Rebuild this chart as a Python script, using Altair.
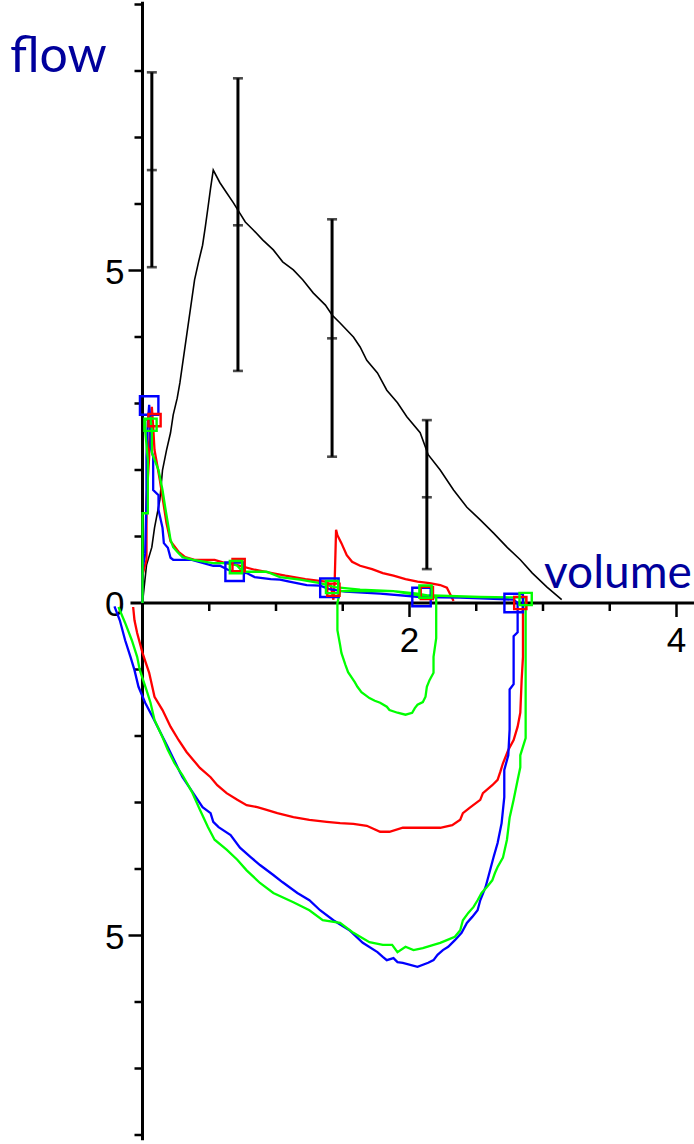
import altair as alt
import pandas as pd

# Scale extents (volume in L, flow in L/s)
X_DOMAIN = [-1.0674, 4.1311]
Y_DOMAIN = [-8.1353, 9.0677]

# Mean expiratory flow-volume curve
mean_curve = [(0.00, 0.00), (0.03, 0.57), (0.07, 0.84), (0.09, 1.13), (0.13, 1.55), (0.15, 2.00),
              (0.18, 2.30), (0.21, 2.56), (0.23, 2.83), (0.26, 3.08), (0.28, 3.31), (0.39, 4.86),
              (0.42, 5.13), (0.45, 5.38), (0.47, 5.65), (0.49, 5.94), (0.51, 6.24), (0.53, 6.51),
              (0.58, 6.32), (0.63, 6.17), (0.68, 6.02), (0.73, 5.86), (0.77, 5.73), (0.83, 5.61),
              (0.90, 5.46), (0.98, 5.31), (1.05, 5.13), (1.13, 5.01), (1.20, 4.86), (1.28, 4.66),
              (1.37, 4.48), (1.42, 4.33), (1.48, 4.21), (1.58, 4.00), (1.63, 3.85), (1.68, 3.65),
              (1.76, 3.46), (1.83, 3.20), (1.91, 3.01), (1.98, 2.80), (2.08, 2.56), (2.14, 2.23),
              (2.23, 2.00), (2.33, 1.70), (2.43, 1.44), (2.53, 1.25), (2.63, 1.05), (2.73, 0.84),
              (2.83, 0.65), (2.92, 0.45), (3.03, 0.24), (3.14, 0.05)]

# Reference error bars: volume, mean, lower, upper
eb_volume = [0.07, 0.715, 1.42, 2.13]
eb_mean = [6.51, 5.68, 3.98, 1.59]
eb_low = [5.05, 3.49, 2.20, 0.51]
eb_high = [7.98, 7.89, 5.77, 2.75]

# Blue loop: expiration then inspiration
blue_loop = [(0.00, 0.00), (0.00, 0.50), (0.02, 0.75), (0.03, 1.55), (0.03, 2.20), (0.04, 2.71),
             (0.05, 2.98), (0.06, 2.71), (0.06, 2.35), (0.08, 2.20), (0.08, 1.70), (0.12, 1.62),
             (0.12, 1.40), (0.15, 1.13), (0.16, 0.90), (0.19, 0.83), (0.21, 0.68), (0.23, 0.65),
             (0.37, 0.65), (0.53, 0.56), (0.58, 0.56), (0.64, 0.50), (0.69, 0.47), (0.78, 0.45),
             (0.84, 0.39), (0.96, 0.36), (1.03, 0.35), (1.10, 0.32), (1.23, 0.27), (1.33, 0.26),
             (1.40, 0.21), (1.52, 0.17), (1.78, 0.14), (2.08, 0.09), (2.38, 0.08), (2.68, 0.06),
             (2.78, 0.05), (2.81, 0.00),
             (2.81, -0.44), (2.78, -0.50), (2.78, -1.22), (2.75, -1.30), (2.75, -1.90), (2.74, -2.29),
             (2.71, -2.51), (2.71, -2.92), (2.69, -3.31), (2.66, -3.61), (2.63, -3.82), (2.61, -3.97),
             (2.59, -4.12), (2.57, -4.27), (2.53, -4.47), (2.51, -4.62), (2.47, -4.72), (2.43, -4.81),
             (2.39, -4.96), (2.34, -5.07), (2.29, -5.17), (2.25, -5.22), (2.21, -5.29), (2.18, -5.37),
             (2.14, -5.41), (2.06, -5.47), (1.95, -5.41), (1.91, -5.40), (1.88, -5.34), (1.83, -5.37),
             (1.80, -5.32), (1.76, -5.25), (1.65, -5.11), (1.55, -4.92), (1.43, -4.77), (1.33, -4.62),
             (1.25, -4.47), (1.16, -4.36), (1.05, -4.20), (0.98, -4.09), (0.88, -3.94), (0.81, -3.82),
             (0.73, -3.68), (0.66, -3.49), (0.57, -3.37), (0.53, -3.29), (0.51, -3.16), (0.45, -3.07),
             (0.39, -2.89), (0.30, -2.62), (0.28, -2.54), (0.19, -2.17), (0.08, -1.73), (0.02, -1.50),
             (-0.03, -1.26), (-0.06, -1.01), (-0.09, -0.81), (-0.13, -0.56), (-0.17, -0.26), (-0.21, -0.05)]

# Green loop: expiration, short inspiration, resumed expiration, full inspiration
green_loop = [(0.00, 0.00), (0.00, 1.35), (0.04, 1.35), (0.04, 2.15), (0.02, 2.60), (0.02, 2.75),
              (0.06, 2.78), (0.07, 2.60), (0.07, 2.26), (0.12, 2.00), (0.15, 1.70), (0.17, 1.44),
              (0.19, 1.20), (0.21, 0.95), (0.23, 0.84), (0.26, 0.77), (0.30, 0.69), (0.38, 0.65),
              (0.53, 0.60), (0.66, 0.60), (0.71, 0.56), (0.75, 0.47), (0.93, 0.47), (1.03, 0.39),
              (1.18, 0.35), (1.33, 0.30), (1.44, 0.24), (1.63, 0.20), (1.88, 0.18), (2.06, 0.14),
              (2.20, 0.09),
              (2.20, 0.00), (2.20, -0.53), (2.18, -0.81), (2.18, -1.05), (2.15, -1.16), (2.13, -1.26),
              (2.12, -1.41), (2.10, -1.49), (2.06, -1.53), (2.04, -1.58), (2.02, -1.65), (1.97, -1.68),
              (1.91, -1.65), (1.85, -1.61), (1.83, -1.56), (1.78, -1.50), (1.74, -1.47), (1.70, -1.43),
              (1.64, -1.34), (1.61, -1.26), (1.59, -1.19), (1.57, -1.13), (1.54, -1.04), (1.52, -0.93),
              (1.49, -0.75), (1.48, -0.63), (1.46, -0.41), (1.46, -0.21), (1.46, 0.00),
              (1.48, 0.18), (1.88, 0.18), (2.06, 0.12), (2.53, 0.09), (2.87, 0.08),
              (2.87, 0.00), (2.87, -2.03), (2.83, -2.29), (2.83, -2.47), (2.81, -2.66), (2.78, -2.96),
              (2.75, -3.23), (2.73, -3.56), (2.70, -3.83), (2.66, -3.97), (2.64, -4.06), (2.62, -4.17),
              (2.58, -4.27), (2.54, -4.36), (2.51, -4.47), (2.48, -4.57), (2.44, -4.66), (2.40, -4.77),
              (2.38, -4.92), (2.34, -5.02), (2.28, -5.07), (2.23, -5.11), (2.18, -5.14), (2.10, -5.19),
              (2.03, -5.22), (1.97, -5.17), (1.91, -5.25), (1.87, -5.14), (1.80, -5.14), (1.70, -5.10),
              (1.58, -4.96), (1.48, -4.81), (1.35, -4.77), (1.25, -4.62), (1.13, -4.50), (0.98, -4.36),
              (0.88, -4.21), (0.78, -4.02), (0.71, -3.86), (0.63, -3.71), (0.54, -3.56), (0.49, -3.37),
              (0.43, -3.11), (0.37, -2.84), (0.30, -2.59), (0.24, -2.41), (0.19, -2.21), (0.15, -2.02),
              (0.09, -1.76), (0.06, -1.50), (0.03, -1.31), (-0.02, -1.01), (-0.04, -0.81), (-0.08, -0.56),
              (-0.13, -0.30), (-0.18, -0.06)]

# Red expiration (with a late burst) and red inspiration
red_expiration = [(0.00, 0.00), (0.00, 0.42), (0.03, 0.65), (0.03, 1.55), (0.05, 2.20), (0.05, 2.41),
                  (0.07, 2.95), (0.08, 2.65), (0.09, 2.30), (0.13, 1.85), (0.18, 1.20), (0.21, 0.93),
                  (0.27, 0.77), (0.32, 0.69), (0.39, 0.65), (0.54, 0.65), (0.62, 0.60), (0.71, 0.57),
                  (0.84, 0.50), (0.97, 0.45), (1.07, 0.41), (1.22, 0.36), (1.37, 0.32), (1.41, 0.27),
                  (1.43, 0.05), (1.44, 0.35), (1.45, 1.10), (1.46, 1.02), (1.49, 0.90), (1.53, 0.72),
                  (1.57, 0.62), (1.63, 0.56), (1.72, 0.51), (1.80, 0.45), (1.88, 0.41), (1.97, 0.36),
                  (2.06, 0.32), (2.15, 0.30), (2.23, 0.27), (2.28, 0.23), (2.30, 0.15), (2.33, 0.03)]
red_inspiration = [(2.85, 0.00), (2.85, -0.81), (2.84, -1.16), (2.83, -1.65), (2.81, -1.86), (2.78, -2.06),
                   (2.74, -2.21), (2.70, -2.41), (2.68, -2.54), (2.66, -2.66), (2.62, -2.74), (2.55, -2.86),
                   (2.53, -2.96), (2.45, -3.08), (2.40, -3.16), (2.38, -3.26), (2.32, -3.34), (2.23, -3.38),
                   (1.95, -3.38), (1.85, -3.44), (1.78, -3.44), (1.68, -3.35), (1.58, -3.32), (1.48, -3.31),
                   (1.38, -3.29), (1.25, -3.26), (1.13, -3.22), (1.01, -3.16), (0.93, -3.11), (0.86, -3.07),
                   (0.78, -3.04), (0.71, -2.96), (0.63, -2.86), (0.56, -2.74), (0.51, -2.62), (0.43, -2.48),
                   (0.38, -2.36), (0.33, -2.24), (0.27, -2.06), (0.21, -1.86), (0.15, -1.61), (0.09, -1.41),
                   (0.05, -1.05), (0.00, -0.75), (-0.04, -0.45), (-0.06, -0.26), (-0.07, -0.06)]

# Timing markers on each trace
blue_marks = [(0.05, 2.97), (0.69, 0.47), (1.40, 0.23), (2.09, 0.09), (2.78, 0.00)]
red_marks = [(0.09, 2.75), (0.72, 0.57), (1.43, 0.20), (2.13, 0.15), (2.83, 0.00)]
green_marks = [(0.06, 2.68), (0.70, 0.54), (1.42, 0.24), (2.12, 0.17), (2.87, 0.06)]

# Axis extents, ticks and labels
x_axis_span = [-0.09, 4.131]
y_axis_span = [-8.08, 9.04]
x_minor_ticks = [0.5, 1.0, 1.5, 2.5, 3.0, 3.5]
x_major_ticks = [2, 4]
y_minor_ticks = [-8, -7, -6, -4, -3, -2, -1, 1, 2, 3, 4, 6, 7, 8, 9]
y_major_ticks = [-5, 5]
x_label_values = [2, 4]
x_label_text = ["2", "4"]
y_label_values = [5, 0, -5]
y_label_text = ["5", "0", "5"]

LABEL_FONT = "Liberation Sans"
TITLE_FONT = "Lato"
TITLE_COLOR = "#00009c"

xs = alt.Scale(domain=X_DOMAIN, nice=False, zero=False)
ys = alt.Scale(domain=Y_DOMAIN, nice=False, zero=False)


def frame(points):
    return pd.DataFrame({
        "volume": [p[0] for p in points],
        "flow": [p[1] for p in points],
        "i": list(range(len(points))),
    })


def X(field="volume"):
    return alt.X(f"{field}:Q", scale=xs, axis=None)


def Y(field="flow"):
    return alt.Y(f"{field}:Q", scale=ys, axis=None)


# Axes drawn through the origin
axis_x_df = pd.DataFrame({"a": [x_axis_span[0]], "b": [x_axis_span[1]], "z": [0.0]})
axis_y_df = pd.DataFrame({"a": [y_axis_span[0]], "b": [y_axis_span[1]], "z": [0.0]})
x_axis = alt.Chart(axis_x_df).mark_rule(color="black", strokeWidth=3).encode(
    x=X("a"), x2="b:Q", y=Y("z"))
y_axis = alt.Chart(axis_y_df).mark_rule(color="black", strokeWidth=3).encode(
    y=Y("a"), y2="b:Q", x=X("z"))


def tick_df(values):
    return pd.DataFrame({"v": values, "z": [0.0] * len(values)})


x_minor = alt.Chart(tick_df(x_minor_ticks)).mark_rule(
    color="black", strokeWidth=2.5, y2Offset=8).encode(x=X("v"), y=Y("z"), y2="z:Q")
x_major = alt.Chart(tick_df(x_major_ticks)).mark_rule(
    color="black", strokeWidth=2.5, y2Offset=14).encode(x=X("v"), y=Y("z"), y2="z:Q")
y_minor = alt.Chart(tick_df(y_minor_ticks)).mark_rule(
    color="black", strokeWidth=2.5, x2Offset=-8).encode(y=Y("v"), x=X("z"), x2="z:Q")
y_major = alt.Chart(tick_df(y_major_ticks)).mark_rule(
    color="black", strokeWidth=2.5, x2Offset=-14).encode(y=Y("v"), x=X("z"), x2="z:Q")

x_lab_df = pd.DataFrame({"v": x_label_values, "t": x_label_text, "z": [0.0] * len(x_label_values)})
y_lab_df = pd.DataFrame({"v": y_label_values, "t": y_label_text, "z": [0.0] * len(y_label_values)})
x_labels = alt.Chart(x_lab_df).mark_text(
    font=LABEL_FONT, fontSize=35, color="black", align="center", baseline="alphabetic", dy=49).encode(
    x=X("v"), y=Y("z"), text="t:N")
y_labels = alt.Chart(y_lab_df).mark_text(
    font=LABEL_FONT, fontSize=35, color="black", align="right", baseline="alphabetic", dx=-18, dy=13).encode(
    y=Y("v"), x=X("z"), text="t:N")

title_df = pd.DataFrame({"t": ["flow", "volume"], "px": [10, 544], "py": [72, 588], "fs": [50, 46]})
flow_title = alt.Chart(title_df).transform_filter("datum.t == 'flow'").mark_text(
    font=TITLE_FONT, fontSize=50, color=TITLE_COLOR, align="left", baseline="alphabetic").encode(
    x=alt.value(10), y=alt.value(72), text="t:N")
volume_title = alt.Chart(title_df).transform_filter("datum.t == 'volume'").mark_text(
    font=TITLE_FONT, fontSize=46, color=TITLE_COLOR, align="left", baseline="alphabetic").encode(
    x=alt.value(544), y=alt.value(588), text="t:N")

# Mean curve and its error bars
mean_line = alt.Chart(frame(mean_curve)).mark_line(color="black", strokeWidth=1.6).encode(
    x=X(), y=Y(), order="i:Q")

eb = pd.DataFrame({"volume": eb_volume, "mean": eb_mean, "low": eb_low, "high": eb_high})
eb_stem = alt.Chart(eb).mark_rule(color="black", strokeWidth=3).encode(
    x=X(), y=Y("low"), y2="high:Q")
eb_caps = [
    alt.Chart(eb).mark_tick(color="black", orient="horizontal", size=10, thickness=2.6).encode(
        x=X(), y=Y(col))
    for col in ["low", "high", "mean"]
]


def trace_line(points, color):
    return alt.Chart(frame(points)).mark_line(color=color, strokeWidth=2.3).encode(
        x=X(), y=Y(), order="i:Q")


def markers(points, color, size):
    return alt.Chart(frame(points)).mark_point(
        shape="square", filled=False, size=size, strokeWidth=2.4, color=color, opacity=1).encode(
        x=X(), y=Y())


chart = alt.layer(
    x_axis, y_axis, x_minor, x_major, y_minor, y_major, x_labels, y_labels,
    flow_title, volume_title,
    mean_line, eb_stem, *eb_caps,
    trace_line(red_expiration, "#ff0000"),
    trace_line(red_inspiration, "#ff0000"),
    trace_line(blue_loop, "#0000ff"),
    trace_line(green_loop, "#00ff00"),
    markers(blue_marks, "#0000ff", 340),
    markers(red_marks, "#ff0000", 150),
    markers(green_marks, "#00ff00", 150),
).properties(
    width=694, height=1144,
    autosize=alt.AutoSizeParams(type="none"),
    padding=0,
    background="white",
).configure_view(stroke=None)

chart.save("out.html", embed_options={"renderer": "svg", "actions": False})
